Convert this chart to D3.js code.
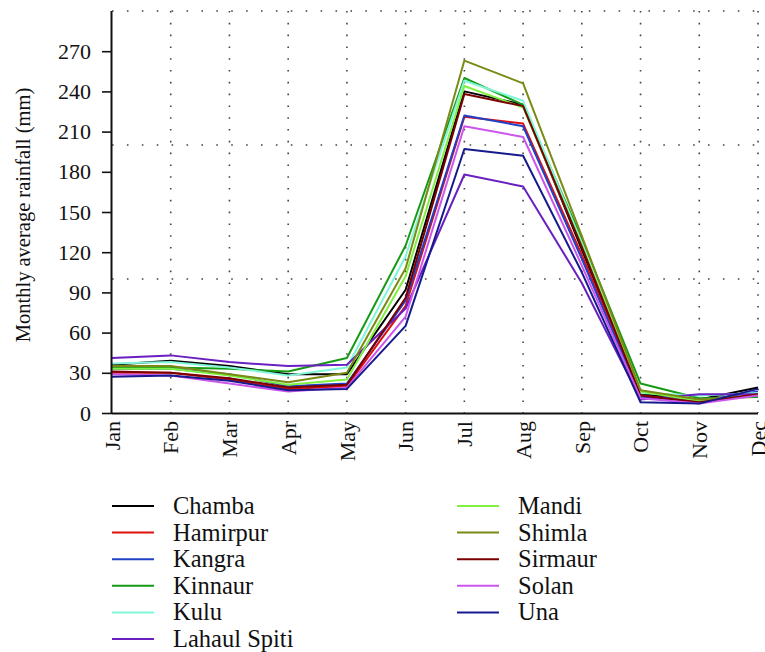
<!DOCTYPE html>
<html>
<head>
<meta charset="utf-8">
<script src="https://cdn.jsdelivr.net/npm/d3@7"></script>
<style>
  body { margin: 0; background: #fff; }
  svg { display: block; }
  text { font-family: "Liberation Serif", "Times New Roman", serif; fill: #111; }
</style>
</head>
<body>
<svg width="765" height="652"></svg>
<script>
// months on the x axis
const months = ["Jan", "Feb", "Mar", "Apr", "May", "Jun", "Jul", "Aug", "Sep", "Oct", "Nov", "Dec"];
const yTicks = [0, 30, 60, 90, 120, 150, 180, 210, 240, 270];
const gridY = [100, 200, 300];

// monthly average rainfall (mm)
const chamba      = [36, 39, 35, 29, 29, 92, 240, 230, 122, 14, 10, 19];
const hamirpur    = [30, 30, 25, 18, 20, 80, 221, 216, 118, 13, 8, 14];
const kangra      = [33, 33, 29, 20, 22, 84, 222, 214, 115, 12, 9, 16];
const kinnaur     = [34, 34, 33, 31, 41, 125, 250, 230, 130, 22, 11, 12];
const kulu        = [37, 38, 34, 28, 34, 117, 248, 233, 127, 15, 13, 15];
const lahaulSpiti = [41, 43, 38, 35, 36, 78, 178, 169, 97, 10, 14, 14];
const mandi       = [33, 33, 28, 21, 25, 102, 244, 228, 125, 16, 9, 13];
const shimla      = [35, 35, 29, 23, 30, 108, 263, 246, 132, 17, 10, 13];
const sirmaur     = [31, 30, 26, 19, 21, 86, 238, 229, 124, 13, 8, 14];
const solan       = [29, 28, 22, 16, 19, 72, 214, 206, 110, 11, 7, 13];
const una         = [27, 28, 24, 17, 18, 65, 197, 192, 105, 8, 7, 18];

const districts = ["Chamba", "Hamirpur", "Kangra", "Kinnaur", "Kulu", "Lahaul Spiti",
                   "Mandi", "Shimla", "Sirmaur", "Solan", "Una"];
const colors = ["#000000", "#e01010", "#2040c8", "#169a16", "#80f5d8", "#6a1fc0",
                "#7ff040", "#7a8a14", "#7a0000", "#cc55ee", "#161a8c"];
const values = [chamba, hamirpur, kangra, kinnaur, kulu, lahaulSpiti,
                mandi, shimla, sirmaur, solan, una];

const series = districts.map((name, i) => ({ name: name, color: colors[i], values: values[i] }));

const svg = d3.select("svg");
const plotLeft = 112, plotRight = 758, plotTop = 11, plotBottom = 413;

const x = d3.scalePoint().domain(months).range([plotLeft, plotRight]);
const y = d3.scaleLinear().domain([0, 300]).range([plotBottom, plotTop]);

// dotted grid
svg.append("g").selectAll("line").data(months.slice(1)).enter().append("line")
    .attr("x1", d => x(d)).attr("x2", d => x(d))
    .attr("y1", plotTop).attr("y2", plotBottom)
    .attr("stroke", "#444").attr("stroke-width", 1.6)
    .attr("stroke-dasharray", "1.6,10.2");
svg.append("g").selectAll("line").data(gridY).enter().append("line")
    .attr("x1", plotLeft).attr("x2", plotRight)
    .attr("y1", d => y(d)).attr("y2", d => y(d))
    .attr("stroke", "#444").attr("stroke-width", 1.6)
    .attr("stroke-dasharray", "1.6,13.3");

// the lines
const line = d3.line()
    .x((d, i) => x(months[i]))
    .y(d => y(d));

svg.append("g").selectAll("path").data(series).enter().append("path")
    .attr("d", d => line(d.values))
    .attr("fill", "none")
    .attr("stroke", d => d.color)
    .attr("stroke-width", 2)
    .attr("stroke-linejoin", "round");

// y axis
const yAxis = svg.append("g")
    .attr("transform", `translate(${plotLeft},0)`)
    .call(d3.axisLeft(y).tickValues(yTicks).tickSize(10).tickPadding(11));
yAxis.select(".domain").attr("d", `M-0.5,${plotTop}V${plotBottom}`).attr("stroke", "#111").attr("stroke-width", 2);
yAxis.selectAll(".tick line").attr("stroke", "#111").attr("stroke-width", 1.6);
yAxis.selectAll("text").attr("font-size", 22).attr("fill", "#111");

// x axis
const xAxis = svg.append("g")
    .attr("transform", `translate(0,${plotBottom})`)
    .call(d3.axisBottom(x).tickSize(0).tickPadding(0));
xAxis.select(".domain").attr("d", `M${plotLeft},0.5H${plotRight}`).attr("stroke", "#111").attr("stroke-width", 2);
xAxis.selectAll("text")
    .attr("font-size", 22).attr("fill", "#111")
    .attr("text-anchor", "end")
    .attr("transform", "rotate(-90)")
    .attr("x", -8).attr("y", 0).attr("dy", "0.33em");

svg.append("text")
    .attr("transform", `translate(30,${(88 + 342) / 2}) rotate(-90)`)
    .attr("text-anchor", "middle")
    .attr("font-size", 20.5)
    .text("Monthly average rainfall (mm)");

// legend, two columns
const legend = svg.append("g").selectAll("g").data(series).enter().append("g")
    .attr("transform", (d, i) => {
        const col = i < 6 ? 0 : 1;
        const row = i < 6 ? i : i - 6;
        return `translate(${col === 0 ? 112 : 457},${506 + row * 26.6})`;
    });
legend.append("line")
    .attr("x1", 0).attr("x2", 42)
    .attr("stroke", d => d.color).attr("stroke-width", 2);
legend.append("text")
    .attr("x", 61).attr("dy", "0.33em")
    .attr("font-size", 24.5)
    .text(d => d.name);
</script>
</body>
</html>
